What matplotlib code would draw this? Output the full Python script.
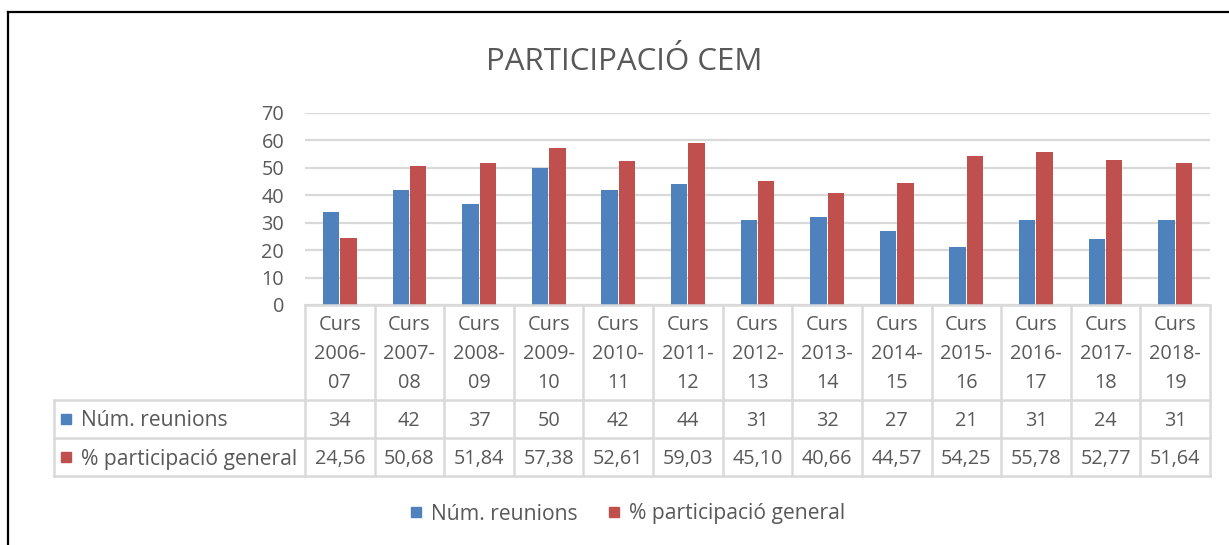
import matplotlib
matplotlib.use("Agg")
import matplotlib.pyplot as plt
from matplotlib.lines import Line2D
from matplotlib.patches import Rectangle
import numpy as np

categories = ["Curs\n2006-\n07", "Curs\n2007-\n08", "Curs\n2008-\n09", "Curs\n2009-\n10",
              "Curs\n2010-\n11", "Curs\n2011-\n12", "Curs\n2012-\n13", "Curs\n2013-\n14",
              "Curs\n2014-\n15", "Curs\n2015-\n16", "Curs\n2016-\n17", "Curs\n2017-\n18",
              "Curs\n2018-\n19"]
reunions = [34, 42, 37, 50, 42, 44, 31, 32, 27, 21, 31, 24, 31]
participacio = [24.56, 50.68, 51.84, 57.38, 52.61, 59.03, 45.10, 40.66, 44.57, 54.25, 55.78, 52.77, 51.64]
series_names = ["Núm. reunions", "% participació general"]
title = "PARTICIPACIÓ CEM"
yticks = [0, 10, 20, 30, 40, 50, 60, 70]

BLUE = "#4F81BD"
RED = "#C0504D"
GRID = "#D9D9D9"
TXT = "#595959"
FONT = "Open Sans"
FS = 14.3
FSL = 15.2
DY = 2  # vertical text offset (px)

W, H = 1229, 545
fig = plt.figure(figsize=(W / 100, H / 100), dpi=100)
fig.patch.set_facecolor("white")

def fx(px):
    return px / W

def fy(py):
    return 1 - py / H

x0, x1, ytop, ybot = 305, 1210, 113, 305
ax = fig.add_axes([fx(x0), fy(ybot), fx(x1) - fx(x0), fy(ytop) - fy(ybot)])
n = len(categories)
x = np.arange(n)
bw = 0.235
ax.bar(x - 0.125, reunions, bw, color=BLUE, zorder=3)
ax.bar(x + 0.125, participacio, bw, color=RED, zorder=3)
ax.set_xlim(-0.5, n - 0.5)
ax.set_ylim(0, 70)
ax.set_yticks(yticks)
ax.set_yticklabels([str(t) for t in yticks], fontsize=FS, color=TXT, family=FONT)
ax.tick_params(axis="y", length=0, pad=15)
ax.set_xticks([])
for s in ax.spines.values():
    s.set_visible(False)
ax.yaxis.grid(True, color=GRID, linewidth=1.6, zorder=0)
ax.set_axisbelow(True)

fig.text(fx(624), fy(60 + DY), title, ha="center", va="center", fontsize=22.5, color=TXT, family=FONT)

# table geometry
fig.canvas.draw()
def col_px(v):
    return ax.transData.transform((v, 0))[0] / fig.dpi * 100

bounds = [col_px(i - 0.5) for i in range(n + 1)]
centers = [col_px(i) for i in range(n)]
ylines = [305, 400, 438, 476]
leg_left = 54

def hline(y, xa, xb):
    fig.add_artist(Line2D([fx(xa), fx(xb)], [fy(y), fy(y)], color=GRID, linewidth=1.8, zorder=1))

def vline(xp, ya, yb):
    fig.add_artist(Line2D([fx(xp), fx(xp)], [fy(ya), fy(yb)], color=GRID, linewidth=1.8, zorder=1))

hline(305, bounds[0], bounds[-1])
for yy in ylines[1:]:
    hline(yy, leg_left, bounds[-1])
for b in bounds:
    vline(b, 305, 476)
vline(leg_left, 400, 476)

for c, lab in zip(centers, categories):
    for k, line in enumerate(lab.split("\n")):
        fig.text(fx(c), fy(323 + 29 * k + DY), line, ha="center", va="center",
                 fontsize=FS, color=TXT, family=FONT)

def fmt(v):
    return f"{v:.2f}".replace(".", ",")

row_y = [419, 457]
for c, r, p in zip(centers, reunions, participacio):
    fig.text(fx(c), fy(row_y[0] + DY), str(r), ha="center", va="center", fontsize=FS, color=TXT, family=FONT)
    fig.text(fx(c), fy(row_y[1] + DY), fmt(p), ha="center", va="center", fontsize=FS, color=TXT, family=FONT)

sq = 10
for yy, name, col in zip(row_y, series_names, [BLUE, RED]):
    fig.add_artist(Rectangle((fx(61), fy(yy + sq / 2)), fx(sq), sq / H, color=col))
    fig.text(fx(81), fy(yy + DY), name, ha="left", va="center", fontsize=FSL, color=TXT, family=FONT)

# bottom legend
leg_items = [(411, 431, series_names[0], BLUE), (609, 629, series_names[1], RED)]
for sx, tx, name, col in leg_items:
    fig.add_artist(Rectangle((fx(sx), fy(512 + sq / 2)), fx(sq), sq / H, color=col))
    fig.text(fx(tx), fy(512 + DY), name, ha="left", va="center", fontsize=FSL, color=TXT, family=FONT)

# outer frame (top and left)
fig.add_artist(Line2D([fx(8), 1], [fy(12), fy(12)], color="black", linewidth=1.6))
fig.add_artist(Line2D([fx(8), fx(8)], [fy(12), 0], color="black", linewidth=1.6))

fig.savefig("out.png", dpi=100)
